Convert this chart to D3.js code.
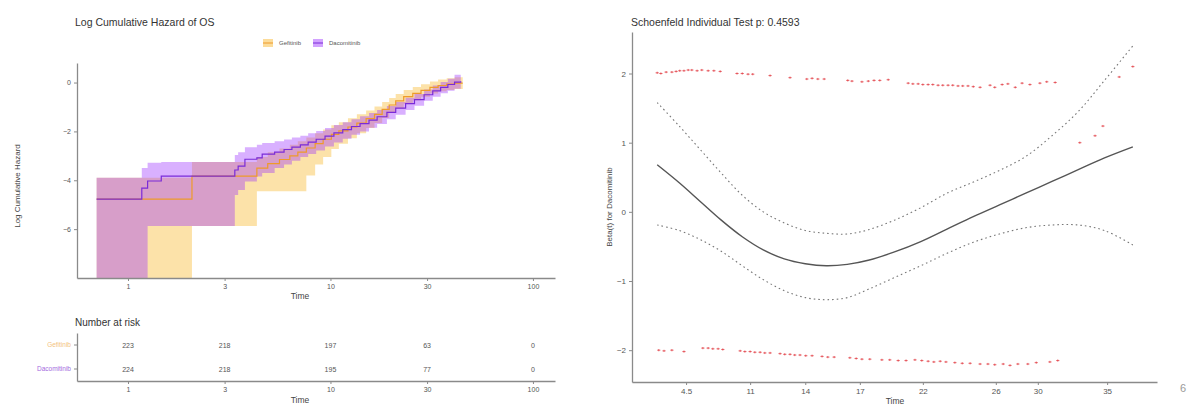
<!DOCTYPE html>
<html>
<head>
<meta charset="utf-8">
<script src="https://cdn.jsdelivr.net/npm/d3@7"></script>
<style>
body { margin: 0; background: #fff; }
svg { font-family: "Liberation Sans", Arial, sans-serif; }
.axis path, .axis line { stroke: #8a8a8a; }
.axis text { fill: #555; }
</style>
</head>
<body>
<svg width="1194" height="408"></svg>
<script>
// ---- data ----
var groups = ["Gefitinib", "Dacomitinib"];

// log cumulative hazard, step values (time in months); -9 stands for -Inf
var gefTime = [0.70, 2.07, 4.33, 4.90, 5.60, 6.30, 6.90, 7.60, 8.40, 9.20, 10.1, 11.0, 12.2, 13.5, 15.0, 16.5, 18.0, 19.5, 21.0, 23.0, 25.5, 28.0, 31.0, 34.0, 37.5, 41.0, 45.0];
var gefEst  = [-4.77, -3.83, -3.50, -3.32, -3.15, -3.00, -2.85, -2.68, -2.50, -2.32, -2.12, -1.98, -1.82, -1.66, -1.48, -1.30, -1.10, -0.92, -0.75, -0.58, -0.44, -0.32, -0.20, -0.12, -0.06, -0.02, -0.02];
var gefLo   = [-9, -5.87, -4.45, -4.45, -4.45, -4.45, -4.45, -3.80, -3.35, -3.05, -2.72, -2.50, -2.28, -2.08, -1.86, -1.66, -1.45, -1.25, -1.06, -0.88, -0.72, -0.58, -0.45, -0.36, -0.30, -0.26, -0.26];
var gefHi   = [-3.90, -3.25, -3.05, -2.85, -2.70, -2.55, -2.40, -2.25, -2.08, -1.92, -1.75, -1.62, -1.46, -1.30, -1.14, -0.98, -0.80, -0.63, -0.47, -0.31, -0.18, -0.07, 0.04, 0.12, 0.18, 0.22, 0.22];

var dacTime = [0.70, 1.17, 1.25, 1.46, 3.37, 3.50, 3.78, 4.33, 4.60, 5.30, 5.90, 6.45, 7.10, 7.76, 8.50, 9.40, 10.4, 11.5, 12.7, 14.0, 15.5, 17.0, 19.0, 21.0, 23.5, 26.0, 29.0, 32.0, 35.0, 38.0, 41.0, 44.0];
var dacEst  = [-4.77, -4.32, -4.03, -3.83, -3.58, -3.42, -3.14, -3.08, -2.93, -2.85, -2.74, -2.64, -2.55, -2.44, -2.32, -2.19, -2.06, -1.93, -1.80, -1.68, -1.54, -1.40, -1.22, -1.05, -0.86, -0.70, -0.50, -0.34, -0.20, -0.08, 0.02, 0.05];
var dacLo   = [-9, -9, -5.87, -5.87, -4.60, -4.40, -4.05, -3.85, -3.70, -3.50, -3.35, -3.20, -3.05, -2.92, -2.78, -2.62, -2.45, -2.30, -2.14, -2.00, -1.85, -1.70, -1.50, -1.32, -1.12, -0.95, -0.74, -0.58, -0.44, -0.34, -0.25, -0.22];
var dacHi   = [-3.90, -3.50, -3.28, -3.25, -2.97, -2.85, -2.65, -2.55, -2.47, -2.40, -2.33, -2.25, -2.18, -2.08, -1.98, -1.86, -1.74, -1.62, -1.50, -1.38, -1.25, -1.12, -0.96, -0.80, -0.62, -0.47, -0.28, -0.12, 0.02, 0.16, 0.32, 0.36];

var timeTicks = [1, 3, 10, 30, 100];
var hazardTicks = [0, -2, -4, -6];
var riskGef = [223, 218, 197, 63, 0];
var riskDac = [224, 218, 195, 77, 0];

// Schoenfeld residual plot (x in transformed-time units 0..100)
var zphTickPos = [10.3, 22.5, 33.0, 43.4, 55.4, 69.3, 77.3, 90.5];
var zphTickLabels = ["4.5", "11", "14", "17", "22", "26", "30", "35"];
var betaTicks = [-2, -1, 0, 1, 2];
var fitX     = [4.8, 9, 13, 17, 21, 25, 29, 33, 37, 41, 45, 50, 55, 60, 65, 70, 75, 80, 85, 90, 95.4];
var fitBeta  = [0.68, 0.42, 0.15, -0.12, -0.36, -0.55, -0.68, -0.75, -0.78, -0.76, -0.70, -0.58, -0.43, -0.25, -0.07, 0.10, 0.27, 0.44, 0.61, 0.78, 0.94];
var fitUpper = [1.58, 1.24, 0.90, 0.56, 0.24, 0.00, -0.16, -0.27, -0.31, -0.32, -0.26, -0.12, 0.06, 0.27, 0.43, 0.60, 0.80, 1.10, 1.45, 1.90, 2.40];
var fitLower = [-0.19, -0.27, -0.40, -0.57, -0.78, -0.98, -1.14, -1.24, -1.27, -1.24, -1.12, -0.95, -0.78, -0.60, -0.44, -0.32, -0.23, -0.19, -0.19, -0.27, -0.48];

var residUpX = [4.8, 5.5, 6.5, 7.6, 8.4, 9.1, 9.9, 10.7, 11.4, 12.4, 13.3, 14.5, 15.6, 16.8, 20.0, 21.0, 22.1, 23.0, 26.3, 30.1, 33.3, 34.3, 35.4, 36.6, 41.1, 41.9, 43.8, 45.0, 46.1, 47.2, 48.8, 52.6, 53.5, 54.5, 55.4, 56.4, 57.3, 58.3, 59.2, 60.2, 61.1, 62.1, 63.0, 64.0, 65.0, 66.3, 68.2, 69.1, 70.5, 71.6, 73.0, 74.3, 75.8, 77.7, 79.0, 80.6, 85.3, 88.2, 89.7, 92.8, 95.4];
var residUpY = [2.01, 2.00, 2.02, 2.02, 2.03, 2.04, 2.04, 2.05, 2.05, 2.04, 2.05, 2.04, 2.04, 2.03, 2.00, 2.00, 1.99, 1.99, 1.97, 1.94, 1.92, 1.93, 1.92, 1.92, 1.90, 1.89, 1.88, 1.89, 1.90, 1.90, 1.91, 1.86, 1.85, 1.85, 1.84, 1.84, 1.84, 1.83, 1.83, 1.83, 1.83, 1.82, 1.82, 1.82, 1.81, 1.80, 1.83, 1.80, 1.84, 1.85, 1.80, 1.86, 1.84, 1.86, 1.88, 1.87, 1.00, 1.10, 1.24, 1.95, 2.10];
var residLoX = [5.1, 6.1, 7.6, 9.9, 13.5, 14.5, 15.4, 16.4, 17.3, 20.6, 21.5, 22.5, 23.4, 24.4, 25.3, 26.3, 28.2, 29.1, 30.1, 31.0, 32.0, 33.1, 34.3, 36.2, 37.3, 38.5, 41.5, 42.7, 43.8, 45.3, 47.6, 49.1, 50.7, 52.2, 53.9, 55.2, 56.4, 57.5, 58.7, 59.8, 61.5, 62.9, 64.4, 66.3, 67.8, 69.1, 70.7, 72.0, 73.5, 75.4, 77.0, 79.6, 81.1];
var residLoY = [-2.00, -2.01, -2.00, -2.02, -1.97, -1.97, -1.98, -1.98, -1.99, -2.01, -2.02, -2.02, -2.03, -2.03, -2.04, -2.04, -2.05, -2.06, -2.06, -2.07, -2.07, -2.08, -2.08, -2.09, -2.10, -2.10, -2.11, -2.12, -2.13, -2.13, -2.14, -2.14, -2.15, -2.15, -2.14, -2.15, -2.16, -2.17, -2.16, -2.17, -2.18, -2.19, -2.19, -2.20, -2.20, -2.21, -2.20, -2.22, -2.20, -2.20, -2.18, -2.17, -2.15];

var fillCol = { "Gefitinib": "#F8B21E", "Dacomitinib": "#9B30FF" };
var lineCol = { "Gefitinib": "#EE9A2A", "Dacomitinib": "#7A2BD8" };
var labelCol = { "Gefitinib": "#F3C27E", "Dacomitinib": "#A46BE0" };

var svg = d3.select("svg");

function rows(t, e, lo, hi) {
  return t.map(function(d, i) { return { t: d, est: e[i], lo: lo[i], hi: hi[i] }; });
}
var curves = [
  { name: "Gefitinib", pts: rows(gefTime, gefEst, gefLo, gefHi) },
  { name: "Dacomitinib", pts: rows(dacTime, dacEst, dacLo, dacHi) }
];

// ---- left: log cumulative hazard ----
var x = d3.scaleLog().domain([0.56, 128.5]).range([77, 555]);
var y = d3.scaleLinear().domain([-8, 0.8]).range([278, 63]);

svg.append("defs").append("clipPath").attr("id", "clipL")
  .append("rect").attr("x", 77).attr("y", 63).attr("width", 478).attr("height", 215);

svg.append("text").attr("x", 75).attr("y", 26).attr("font-size", 10.5).attr("fill", "#333")
  .text("Log Cumulative Hazard of OS");

var band = d3.area().curve(d3.curveStepAfter)
  .x(function(d) { return x(d.t); })
  .y0(function(d) { return y(d.lo); })
  .y1(function(d) { return y(d.hi); });
var step = d3.line().curve(d3.curveStepAfter)
  .x(function(d) { return x(d.t); })
  .y(function(d) { return y(d.est); });

var gL = svg.append("g").attr("clip-path", "url(#clipL)");
gL.selectAll("path.band").data(curves).enter().append("path")
  .attr("class", "band")
  .attr("d", function(d) { return band(d.pts); })
  .attr("fill", function(d) { return fillCol[d.name]; })
  .attr("fill-opacity", 0.38);
gL.selectAll("path.km").data(curves).enter().append("path")
  .attr("class", "km")
  .attr("d", function(d) { return step(d.pts); })
  .attr("fill", "none")
  .attr("stroke", function(d) { return lineCol[d.name]; })
  .attr("stroke-width", 1.2);

svg.append("g").attr("class", "axis").attr("transform", "translate(77,0)")
  .call(d3.axisLeft(y).tickValues(hazardTicks).tickSize(3).tickSizeOuter(0))
  .call(function(g) { g.selectAll("text").attr("font-size", 7); });
svg.append("g").attr("class", "axis").attr("transform", "translate(0,278)")
  .call(d3.axisBottom(x).tickValues(timeTicks).tickFormat(d3.format("d")).tickSize(3).tickSizeOuter(0))
  .call(function(g) { g.selectAll("text").attr("font-size", 7); });

svg.append("text").attr("x", 300).attr("y", 299).attr("text-anchor", "middle")
  .attr("font-size", 8.5).attr("fill", "#444").text("Time");
svg.append("text").attr("transform", "translate(20,186) rotate(-90)").attr("text-anchor", "middle")
  .attr("font-size", 8).attr("fill", "#444").text("Log Cumulative Hazard");

// legend
var leg = svg.append("g").attr("transform", "translate(263,43)");
var legX = { "Gefitinib": 0, "Dacomitinib": 50 };
groups.forEach(function(gname) {
  var k = leg.append("g").attr("transform", "translate(" + legX[gname] + ",0)");
  k.append("rect").attr("x", 0).attr("y", -4).attr("width", 10).attr("height", 8)
    .attr("fill", fillCol[gname]).attr("fill-opacity", 0.45);
  k.append("line").attr("x1", 0).attr("x2", 10).attr("y1", 0).attr("y2", 0)
    .attr("stroke", lineCol[gname]).attr("stroke-width", 1);
  k.append("text").attr("x", 16).attr("y", 2.3).attr("font-size", 6).attr("fill", "#555").text(gname);
});

// ---- number at risk table ----
svg.append("text").attr("x", 75).attr("y", 326).attr("font-size", 10).attr("fill", "#333")
  .text("Number at risk");
var ry = d3.scaleBand().domain(groups).range([333, 381]);
var riskRows = [
  { name: "Gefitinib", vals: riskGef },
  { name: "Dacomitinib", vals: riskDac }
];
riskRows.forEach(function(r) {
  svg.append("g").selectAll("text").data(r.vals).enter().append("text")
    .attr("x", function(d, i) { return x(timeTicks[i]); })
    .attr("y", ry(r.name) + ry.bandwidth() / 2 + 2.5)
    .attr("text-anchor", "middle").attr("font-size", 7).attr("fill", "#555")
    .text(function(d) { return d; });
});
svg.append("g").attr("class", "axis").attr("transform", "translate(77,0)")
  .call(d3.axisLeft(ry).tickSize(3).tickSizeOuter(0))
  .call(function(g) {
    g.selectAll("text").attr("font-size", 6.5).style("fill", function(d) { return labelCol[d]; });
  });
svg.append("g").attr("class", "axis").attr("transform", "translate(0,381)")
  .call(d3.axisBottom(x).tickValues(timeTicks).tickFormat(d3.format("d")).tickSize(3).tickSizeOuter(0))
  .call(function(g) { g.selectAll("text").attr("font-size", 7); });
svg.append("text").attr("x", 300).attr("y", 403).attr("text-anchor", "middle")
  .attr("font-size", 8.5).attr("fill", "#444").text("Time");

// ---- right: Schoenfeld residuals ----
var zx = d3.scaleLinear().domain([0, 100]).range([632, 1157]);
var zy = d3.scaleLinear().domain([-2.46, 2.6]).range([382, 32]);

svg.append("text").attr("x", 631).attr("y", 26).attr("font-size", 10.5).attr("fill", "#333")
  .text("Schoenfeld Individual Test p: 0.4593");

var smooth = function(vals) {
  return d3.line().curve(d3.curveCatmullRom.alpha(0.5))
    .x(function(d, i) { return zx(fitX[i]); })
    .y(function(d) { return zy(d); })(vals);
};
svg.append("path").attr("d", smooth(fitBeta)).attr("fill", "none")
  .attr("stroke", "#555").attr("stroke-width", 1.4);
[fitUpper, fitLower].forEach(function(v) {
  svg.append("path").attr("d", smooth(v)).attr("fill", "none")
    .attr("stroke", "#777").attr("stroke-width", 1.1).attr("stroke-dasharray", "1.6,3");
});

function crosses(xs, ys) {
  svg.append("g").selectAll("path").data(xs).enter().append("path")
    .attr("d", function(d, i) {
      var cx = zx(d), cy = zy(ys[i]);
      return "M" + (cx - 1.6) + "," + cy + "h3.2M" + cx + "," + (cy - 1.1) + "v2.2";
    })
    .attr("stroke", "#e0343a").attr("stroke-width", 0.9).attr("stroke-opacity", 0.8);
}
crosses(residUpX, residUpY);
crosses(residLoX, residLoY);

svg.append("g").attr("class", "axis").attr("transform", "translate(632,0)")
  .call(d3.axisLeft(zy).tickValues(betaTicks).tickFormat(d3.format("d")).tickSize(3).tickSizeOuter(0))
  .call(function(g) { g.selectAll("text").attr("font-size", 8); });
svg.append("g").attr("class", "axis").attr("transform", "translate(0,382)")
  .call(d3.axisBottom(zx).tickValues(zphTickPos)
    .tickFormat(function(d, i) { return zphTickLabels[i]; }).tickSize(3).tickSizeOuter(0))
  .call(function(g) { g.selectAll("text").attr("font-size", 8); });
svg.selectAll(".axis path.domain").attr("stroke-width", 1.3);

svg.append("text").attr("x", 895).attr("y", 404).attr("text-anchor", "middle")
  .attr("font-size", 8.5).attr("fill", "#444").text("Time");
svg.append("text").attr("transform", "translate(612,207) rotate(-90)").attr("text-anchor", "middle")
  .attr("font-size", 8).attr("fill", "#444").text("Beta(t) for Dacomitinib");

svg.append("text").attr("x", 1183).attr("y", 392).attr("text-anchor", "middle")
  .attr("font-size", 11).attr("fill", "#9a9a9a").text("6");
</script>
</body>
</html>
